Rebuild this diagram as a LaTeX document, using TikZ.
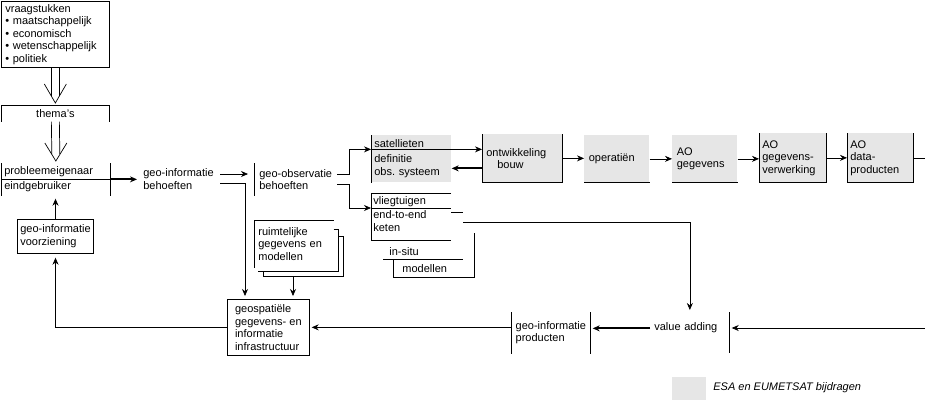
\documentclass[tikz,border=0pt]{standalone}
\usepackage{fontspec}
\setmainfont{Liberation Sans}
\usetikzlibrary{arrows.meta}
\definecolor{esagray}{HTML}{E6E6E6}
\frenchspacing
\begin{document}
\begin{tikzpicture}[x=1pt,y=-1pt,
  font=\fontsize{11}{12.5}\selectfont,
  line width=0.7pt,
  arr/.style={-{Stealth[length=7pt,width=6pt]}},
  thickarr/.style={line width=2pt,-{Stealth[length=7pt,width=6pt]}},
  box/.style={draw, anchor=north west, align=left, inner sep=3pt},
  gbox/.style={fill=esagray, anchor=north west, align=left, inner sep=3pt},
  plain/.style={anchor=north west, align=left, inner sep=3pt},
]
\useasboundingbox (0,0) rectangle (925,400);

% left column
\node[box, minimum width=108pt, minimum height=66pt, text width=100pt] (vraag) at (1,1)
  {vraagstukken\\• maatschappelijk\\• economisch\\• wetenschappelijk\\• politiek};
\node[anchor=north west, minimum width=108pt, minimum height=16pt, inner sep=0pt] (thema) at (1,105) {thema's};
\draw (thema.south west) -- (thema.north west) -- (thema.north east) -- (thema.south east);
\node[plain, font=\fontsize{11}{15}\selectfont, minimum width=109pt, minimum height=32pt, text width=103pt] (prob) at (1,163)
  {probleemeigenaar\\eindgebruiker};
\draw (prob.north west) -- (prob.south west);
\draw (prob.north east) -- (prob.south east);
\draw (prob.west) -- (prob.east);

% hollow arrows
\draw ([xshift=-4pt]vraag.south) -- ([xshift=-4pt,yshift=9pt]thema.north);
\draw ([xshift=4pt]vraag.south) -- ([xshift=4pt,yshift=9pt]thema.north);
\draw ([xshift=-11pt,yshift=21pt]thema.north) -- ([yshift=2pt]thema.north) -- ([xshift=11pt,yshift=21pt]thema.north);
\draw ([xshift=-4pt]thema.south) -- ([xshift=-4pt,yshift=9pt]prob.north);
\draw ([xshift=4pt]thema.south) -- ([xshift=4pt,yshift=9pt]prob.north);
\draw ([xshift=-11pt,yshift=20pt]prob.north) -- ([yshift=2pt]prob.north) -- ([xshift=11pt,yshift=20pt]prob.north);

\node[box, minimum width=75pt, minimum height=34pt] (voorz) at (17,219) {geo-informatie\\voorziening};

% geo-informatie behoeften
\node[anchor=west, inner xsep=6pt, inner ysep=0pt, align=left] (geoinfo) at (137,179) {geo-informatie\\behoeften};
\node[plain, inner xsep=5pt, minimum width=79pt, minimum height=32pt] (geoobs) at (254,163) {geo-observatie\\behoeften};
\draw (geoobs.north west) -- (geoobs.south west);

% ruimtelijke gegevens en modellen (stacked sheets)
\node[plain, inner xsep=4pt, minimum width=79pt, minimum height=47pt, text width=71pt] (ruim) at (254,220)
  {ruimtelijke\\gegevens en\\modellen};
\draw (ruim.south west) -- (ruim.north west) -- (ruim.north east);
\draw ([yshift=-9pt]ruim.north east) -- ++(5,0) |- ([xshift=4pt,yshift=-4pt]ruim.south west);
\draw ([xshift=9pt,yshift=-4pt]ruim.south west) -- ++(0,5) -- ++(80,0) -- ++(0,-40) -- ++(-5,0);

% geospatiele infrastructuur
\node[box, minimum width=82pt, minimum height=56pt] (geospat) at (227,299)
  {geospatiële\\gegevens- en\\informatie\\infrastructuur};

% top row
\node[gbox, minimum width=80pt, minimum height=47pt, text width=74pt] (sat) at (371,135)
  {satellieten\\[2.5pt]definitie\\obs. systeem};
\draw (sat.north west) -- (sat.south west);
\node[gbox, minimum width=80pt, minimum height=48pt, text width=72pt] (ontw) at (482,134)
  {ontwikkeling\\\hspace*{11pt}bouw};
\draw (ontw.north west) -- (ontw.south west) -- (ontw.south east) -- (ontw.north east);
\node[gbox, minimum width=65pt, minimum height=47pt, text width=56pt] (oper) at (584,135) {operatiën};
\draw (oper.south west) -- (oper.south east);
\node[gbox, minimum width=65pt, minimum height=47pt, text width=56pt] (aogeg) at (672,135) {AO\\gegevens};
\draw (aogeg.south west) -- (aogeg.south east);
\node[gbox, minimum width=67pt, minimum height=49pt, text width=61pt] (aoverw) at (759,133) {AO\\gegevens-\\verwerking};
\draw (aoverw.north west) -- (aoverw.south west) -- (aoverw.south east) -- (aoverw.north east);
\node[gbox, minimum width=66pt, minimum height=49pt, text width=60pt] (aodata) at (847,133) {AO\\data-\\producten};
\draw (aodata.north west) -- (aodata.south west) -- (aodata.south east) -- (aodata.north east);
\coordinate (topout) at (925,158);

% vliegtuigen / end-to-end
\node[anchor=north west, align=left, inner xsep=2pt, inner ysep=3.5pt, text width=76pt] (vlieg) at (371,193)
  {vliegtuigen\\[1.5pt]end-to-end\\keten};
\draw ([xshift=80pt]vlieg.north west) -- (vlieg.north west) -- ++(0,47) -- ++(80,0);
\draw ([yshift=-15pt]vlieg.north west) -- ++(80,0);
\node[anchor=north west, minimum width=81pt, minimum height=18pt, inner xsep=9pt, inner ysep=0pt, text width=63pt, align=left] (modl) at (393,259) {modellen};
\draw (modl.north west) -- (modl.south west) -- (modl.south east) -- ++(0,-45);
\draw ([xshift=-10pt]modl.north west) -- ([xshift=70pt]modl.north west);
\node[anchor=south west, inner sep=0pt] (insitu) at ([xshift=-4pt,yshift=3pt]modl.north west) {in-situ};

% bottom row
\node[anchor=north west, minimum width=79pt, minimum height=41pt, align=left, inner xsep=4pt] (prod) at (511,312)
  {geo-informatie\\producten};
\draw (prod.north west) -- (prod.south west);
\draw (prod.north east) -- (prod.south east);
\node[anchor=north west, minimum width=79pt, minimum height=30pt, inner sep=0pt, text width=71pt, align=left] (valadd) at (650,312) {value adding};
\draw (valadd.north east) -- ++(0,41);
\coordinate (rightin) at (925,328);

% legend
\node[fill=esagray, anchor=north west, minimum width=34pt, minimum height=23pt, inner sep=0pt] (leg) at (672,377) {};
\node[anchor=west, inner sep=0pt, font=\fontsize{11}{12.5}\selectfont\itshape] (legtxt) at (713,388) {ESA en EUMETSAT bijdragen};

% connectors
\draw[thickarr] (prob.east) -- (prob.east -| geoinfo.west);
\draw[arr] ([yshift=5pt]geoinfo.east) -- ([xshift=-6pt,yshift=5pt]geoinfo.east -| geoobs.west);
\draw[arr, shorten >=3pt] ([yshift=-4pt]geoinfo.east) -| ([xshift=18pt]geospat.north west);
\draw[arr] ([yshift=5pt]geoobs.east) -- ++(12,0) |- ([yshift=9.5pt]sat.west);
\draw[arr] ([yshift=-5pt]geoobs.east) -- ++(12,0) |- ([yshift=-15pt]vlieg.north west);
\draw[arr] ([yshift=9.5pt]sat.west) -- ([yshift=9.5pt]sat.west -| ontw.west);
\draw[thickarr] ([yshift=-10pt]ontw.west) -- ([yshift=-10pt]ontw.west -| sat.east);
\draw[arr] (ontw.east) -- (ontw.east -| oper.west);
\draw[arr] (oper.east) -- (oper.east -| aogeg.west);
\draw[arr] (aogeg.east) -- (aogeg.east -| aoverw.west);
\draw[arr] (aoverw.east) -- (aoverw.east -| aodata.west);
\draw (aodata.east) -- (aodata.east -| topout);
\draw ([xshift=80pt,yshift=-19pt]vlieg.north west) -- ++(12,0);
\draw[arr, shorten >=2pt] ([xshift=92pt,yshift=-29pt]vlieg.north west) -| (valadd.north);
\draw[arr, shorten >=3pt] ([xshift=39pt,yshift=-9pt]ruim.south west) coordinate (r1) -- (r1 |- geospat.north);
\draw[arr, shorten >=4pt] (geospat.west) -| (voorz.south);
\draw[arr, shorten >=3pt] (voorz.north) -- (voorz.north |- prob.south);
\draw[arr, shorten >=2pt] (prod.west |- geospat.east) -- (geospat.east);
\draw[thickarr, shorten >=2pt] ([yshift=-1pt]valadd.west) -- ([yshift=-1pt]valadd.west -| prod.east);
\draw[arr, shorten >=2pt] (rightin) -- (rightin -| valadd.east);
\end{tikzpicture}
\end{document}
